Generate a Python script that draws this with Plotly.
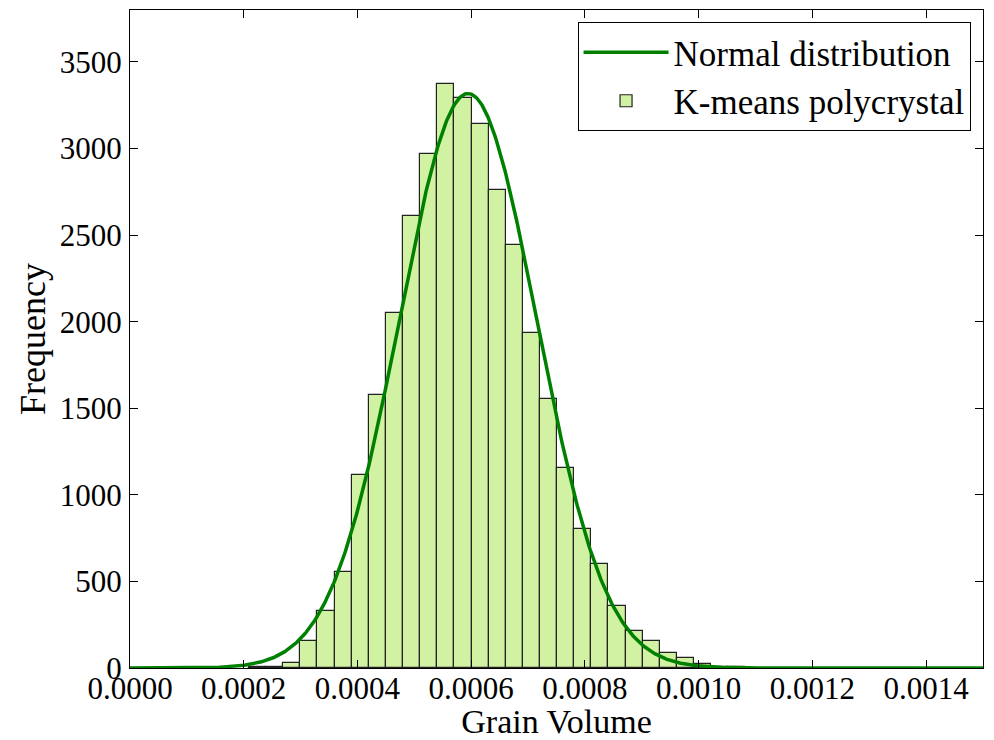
import numpy as np
import plotly.graph_objects as go

# Histogram of grain volumes
bin_start = 0.0002091
bin_width = 0.00003011
counts = [3, 8, 29, 158, 327, 556, 1113, 1575, 2050, 2612, 2970, 3373, 3292,
          3144, 2761, 2445, 1935, 1554, 1156, 800, 602, 356, 216, 158, 87, 56,
          23, 8, 3]

x_tickvals = [0.0, 0.0002, 0.0004, 0.0006, 0.0008, 0.0010, 0.0012, 0.0014]
x_ticktext = ["0.0000", "0.0002", "0.0004", "0.0006", "0.0008", "0.0010",
              "0.0012", "0.0014"]
y_tickvals = [0, 500, 1000, 1500, 2000, 2500, 3000, 3500]

counts_arr = np.array(counts, dtype=float)
left_edges = bin_start + bin_width * np.arange(len(counts))
centers = left_edges + bin_width / 2

# Normal fit from the histogram itself
N = counts_arr.sum()
mu = (centers * counts_arr).sum() / N
sigma = np.sqrt(((centers - mu) ** 2 * counts_arr).sum() / N)
xs = np.linspace(0, 0.0015, 800)
ys = N * bin_width * np.exp(-0.5 * ((xs - mu) / sigma) ** 2) / (sigma * np.sqrt(2 * np.pi))

FONT = "Liberation Serif"

fig = go.Figure()
fig.add_trace(go.Scatter(
    x=xs, y=ys, mode="lines", name="Normal distribution",
    line=dict(color="#008000", width=3.5),
))
fig.add_trace(go.Bar(
    x=centers, y=counts, width=bin_width, name="K-means polycrystal",
    marker=dict(color="#d1f1a3", line=dict(color="#222222", width=1.2)),
))

axis_common = dict(
    showline=True, linecolor="black", linewidth=1.2, mirror="ticks",
    ticks="inside", ticklen=8, tickwidth=1, tickcolor="black",
    showgrid=False, zeroline=False, automargin=False,
    tickfont=dict(family=FONT, size=31, color="black"),
)

# the page body adds an 8px offset, so the figure is 8px smaller and margins shifted
fig.update_layout(
    width=986, height=732,
    margin=dict(l=122, r=11, t=2, b=72),
    paper_bgcolor="white", plot_bgcolor="white",
    bargap=0,
    showlegend=True,
    legend=dict(
        x=0.9854, y=0.9818, xanchor="right", yanchor="top",
        bordercolor="black", borderwidth=1, bgcolor="white",
        font=dict(family=FONT, size=35, color="black"),
        itemwidth=85, traceorder="normal", tracegroupgap=0,
    ),
    xaxis=dict(range=[0, 0.0015], tickvals=x_tickvals, ticktext=x_ticktext,
               title=dict(text="Grain Volume", standoff=0,
                          font=dict(family=FONT, size=34, color="black")),
               ticklabelstandoff=-7,
               **axis_common),
    yaxis=dict(range=[0, 3800], tickvals=y_tickvals,
               title=dict(text="Frequency", standoff=3,
                          font=dict(family=FONT, size=36, color="black")),
               ticklabelstandoff=1,
               **axis_common),
)

fig.write_html("out.html")
